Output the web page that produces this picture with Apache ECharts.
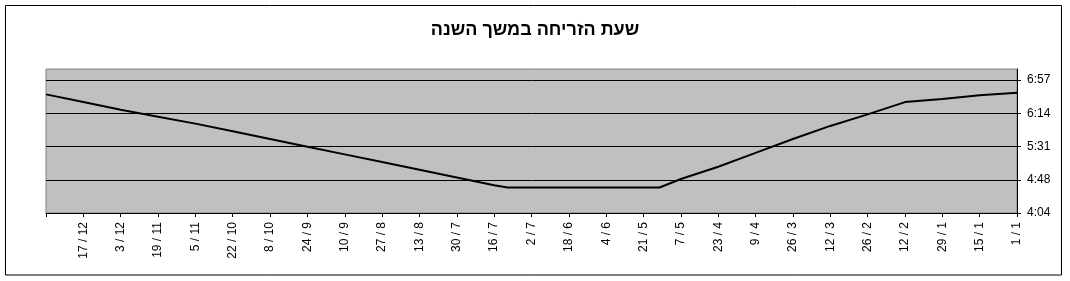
<!DOCTYPE html>
<html>
<head>
<meta charset="utf-8">
<script src="https://cdn.jsdelivr.net/npm/echarts@6/dist/echarts.min.js"></script>
<style>
html,body{margin:0;padding:0;background:#fff;}
#chart{width:1070px;height:281px;}
</style>
</head>
<body>
<div id="chart"></div>
<script>
// ---- data ----
const titleText = 'שעת הזריחה במשך השנה';
const pointDates = ['1/1','15/1','29/1','12/2','26/2','12/3','26/3','9/4','23/4','7/5','15/5',
  '11/7','16/7','30/7','13/8','27/8','10/9','24/9','8/10','22/10','5/11','19/11','3/12','17/12','31/12'];
const sunriseTimes = ['6:41','6:38','6:33','6:29','6:13','5:58','5:41','5:23','5:05','4:49','4:38',
  '4:38','4:41','4:51','5:01','5:11','5:21','5:31','5:41','5:51','6:01','6:10','6:19','6:29','6:39'];
const xTickLabels = ['1 / 1','15 / 1','29 / 1','12 / 2','26 / 2','12 / 3','26 / 3','9 / 4','23 / 4',
  '7 / 5','21 / 5','4 / 6','18 / 6','2 / 7','16 / 7','30 / 7','13 / 8','27 / 8','10 / 9','24 / 9',
  '8 / 10','22 / 10','5 / 11','19 / 11','3 / 12','17 / 12'];
const yTickLabels = ['4:04','4:48','5:31','6:14','6:57'];
const yTickValues = [244.8, 288, 331.2, 374.4, 417.6]; // minutes after midnight
const yMax = 432;
const dayStep = 14;
const lastDay = 364;

// ---- helpers ----
const monthDays = [31,28,31,30,31,30,31,31,30,31,30,31];
function dayOfYear(s){
  const [d,m] = s.split('/').map(Number);
  let n = 0; for (let i=0;i<m-1;i++) n += monthDays[i];
  return n + d - 1;
}
function toMinutes(t){ const [h,mm] = t.split(':').map(Number); return h*60+mm; }
const seriesData = pointDates.map((d,i)=>[dayOfYear(d), toMinutes(sunriseTimes[i])]);
const xLabelValues = xTickLabels.map((_,i)=>i*dayStep);
const xTickValues = xLabelValues.concat([lastDay]);

const font = 'Arial, "Liberation Sans", sans-serif';
const chart = echarts.init(document.getElementById('chart'), null, {renderer:'canvas'});
chart.setOption({
  animation:false,
  backgroundColor:'#ffffff',
  title:{
    text:titleText, left:'center', top:16,
    textStyle:{fontFamily:font, fontSize:18, fontWeight:'bold', color:'#000'}
  },
  graphic:[{
    type:'rect', silent:true, z:100,
    shape:{x:5.5, y:5.5, width:1056, height:269.5},
    style:{fill:'none', stroke:'#000', lineWidth:1}
  }],
  grid:{
    left:46, right:53, top:69, bottom:68,
    show:true, backgroundColor:'#C0C0C0', borderColor:'#808080', borderWidth:1,
    containLabel:false, outerBoundsMode:'none'
  },
  xAxis:{
    type:'value', inverse:true, min:0, max:lastDay,
    axisLine:{show:true, lineStyle:{color:'#000', width:1}},
    axisTick:{show:true, inside:false, length:4, customValues:xTickValues, lineStyle:{color:'#000'}},
    axisLabel:{
      show:true, rotate:90, margin:9, customValues:xLabelValues,
      fontFamily:font, fontSize:12, color:'#000',
      formatter:(v)=>xTickLabels[Math.round(v/dayStep)]
    },
    splitLine:{show:false}
  },
  yAxis:{
    type:'value', position:'right', min:yTickValues[0], max:yMax,
    axisLine:{show:true, lineStyle:{color:'#000', width:1}},
    axisTick:{show:true, inside:false, length:4, customValues:yTickValues, lineStyle:{color:'#000'}},
    axisLabel:{
      show:true, margin:10, customValues:yTickValues,
      fontFamily:font, fontSize:12, color:'#000',
      formatter:(v)=>{ const i = yTickValues.findIndex(t=>Math.abs(t-v)<0.01); return i>=0 ? yTickLabels[i] : ''; }
    },
    splitLine:{show:true, lineStyle:{color:'#000', width:1}}
  },
  series:[{
    type:'line', data:seriesData, symbol:'none', smooth:false,
    lineStyle:{color:'#000', width:2}, z:5
  }]
});
</script>
</body>
</html>
